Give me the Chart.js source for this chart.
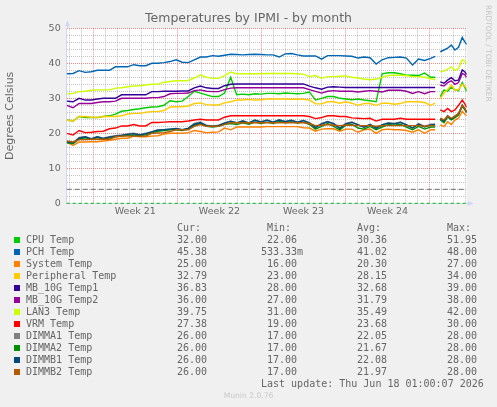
<!DOCTYPE html>
<html>
<head>
<meta charset="utf-8">
<title>Temperatures by IPMI - by month</title>
<script src="https://cdn.jsdelivr.net/npm/chart.js@4.4.1/dist/chart.umd.min.js"></script>
<style>
  body { margin: 0; background: #F0F0F0; }
  #wrap { position: relative; width: 497px; height: 407px; overflow: hidden; color: #666666; }
  #graph { position: absolute; left: 0; top: 0; }
  .mono { position: absolute; height: 12px; line-height: 12px; font-family: "DejaVu Sans Mono", monospace; font-size: 10px; white-space: pre; }
  .sw { position: absolute; width: 6px; height: 6px; }
  #munin { position: absolute; left: 0; width: 497px; top: 391px; line-height: 10px; text-align: center; font-family: "DejaVu Sans", sans-serif; font-size: 7.6px; color: #C8C8C8; }
  #rrd { position: absolute; left: 484px; top: 5px; width: 8px; line-height: 8px; writing-mode: vertical-rl; font-family: "DejaVu Sans", sans-serif; font-size: 7.5px; color: #C4C4C4; white-space: nowrap; }
</style>
</head>
<body>
<div id="wrap">
  <canvas id="graph" width="497" height="407"></canvas>
  <div id="rrd">RRDTOOL / TOBI OETIKER</div>
  <div id="legend"></div>
  <div class="mono" style="left:261px; top:378px;">Last update: Thu Jun 18 01:00:07 2026</div>
  <div id="munin">Munin 2.0.76</div>
</div>
<script>
// x = days from the left edge of the month graph
const days = [0, 0.53, 1.03, 1.54, 2.04, 2.55, 3.05, 3.56, 4.06, 4.57, 5.07, 5.58, 6.08, 6.58, 7.09, 7.59, 8.1,
  8.6, 9.11, 9.61, 10.12, 10.62, 11.13, 11.63, 12.14, 12.64, 13.14, 13.65, 14.15, 14.66, 15.16, 15.67, 16.17,
  16.68, 17.18, 17.69, 18.19, 18.7, 19.2, 19.7, 20.21, 20.71, 21.22, 21.72, 22.23, 22.73, 23.24, 23.74, 24.25, 24.75, 25.26,
  25.76, 26.26, 26.77, 27.27, 27.78, 28.28, 28.79, 29.29, 29.8, 30.3,
  30.67, 30.9, 31.1, 31.41, 31.71, 32.02, 32.32, 32.62, 32.93, 33.13, 33.3];

const weekStarts = [2.215, 9.215, 16.215, 23.215, 30.215];
const weekLabels = ["Week 21", "Week 22", "Week 23", "Week 24"];
const hrules = [4, 0];

const seriesNames = ["CPU Temp", "PCH Temp", "System Temp", "Peripheral Temp", "MB_10G Temp1", "MB_10G Temp2",
  "LAN3 Temp", "VRM Temp", "DIMMA1 Temp", "DIMMA2 Temp", "DIMMB1 Temp", "DIMMB2 Temp"];
const colors = ["#00CC00", "#0066B3", "#FF8000", "#FFCC00", "#330099", "#990099",
  "#CCFF00", "#FF0000", "#808080", "#008F00", "#00487D", "#B35A00"];

const cpuTemp = [23.8, 23.5, 24.8, 24.5, 24.5, 24.5, 24.8, 25.0, 25.5, 26.3, 26.5, 26.8, 27.0, 27.3, 27.5, 27.6, 28.0,
  29.3, 29.0, 29.2, 30.5, 32.0, 31.5, 31.0, 30.5, 30.5, 31.5, 36.0, 31.0, 31.2, 31.0, 31.3, 31.2,
  31.4, 31.4, 31.3, 31.5, 31.4, 31.3, 31.4, 31.8, 29.5, 30.0, 30.5, 30.5, 30.0, 29.8, 29.6, 29.8, 29.5, 29.3,
  29.0, 37.0, 37.3, 37.3, 37.0, 36.6, 36.6, 36.5, 37.2, 36.0,
  36.0, null, 30.5, 32.4, 32.0, 33.2, 32.5, 32.2, 34.5, 33.2, 32.0];
const pchTemp = [37.0, 37.1, 37.9, 37.4, 37.6, 38.0, 38.0, 38.0, 39.0, 39.0, 39.0, 39.6, 39.3, 39.3, 40.0, 40.0, 40.2,
  40.5, 41.0, 40.3, 40.2, 41.0, 41.8, 41.8, 42.2, 42.0, 42.3, 42.6, 42.5, 42.4, 42.5, 42.6, 42.5,
  42.4, 42.4, 41.8, 42.7, 42.8, 42.4, 42.1, 42.1, 42.1, 41.2, 42.2, 42.2, 42.2, 42.1, 42.0, 41.5, 41.8, 41.6,
  39.8, 41.0, 41.6, 41.7, 41.8, 41.5, 39.5, 41.2, 40.8, 41.4,
  42.0, null, 43.3, 43.8, 44.3, 45.2, 43.8, 44.6, 47.4, 46.2, 45.4];
const systemTemp = [17.5, 16.5, 17.5, 17.5, 17.6, 17.6, 17.8, 18.0, 18.3, 18.6, 18.6, 19.2, 19.0, 19.0, 19.2, 19.3, 19.8,
  20.0, 20.0, 20.0, 20.2, 20.8, 20.5, 20.2, 20.3, 20.4, 21.5, 21.0, 21.8, 21.8, 21.8, 21.8, 21.8,
  21.9, 21.9, 21.9, 21.9, 21.9, 21.9, 21.6, 21.5, 20.6, 21.2, 21.3, 21.3, 20.6, 21.2, 21.2, 20.3, 21.0, 21.2,
  20.0, 21.0, 21.2, 21.0, 21.0, 20.8, 20.3, 21.0, 20.0, 21.0,
  21.0, null, 22.4, 21.9, 23.3, 22.5, 23.8, 24.3, 26.3, 25.5, 25.0];
const peripheralTemp = [23.8, 23.5, 24.8, 24.8, 24.6, 24.5, 24.8, 24.8, 24.8, 25.0, 25.5, 25.7, 25.7, 26.0, 26.2, 26.2, 26.5,
  27.5, 27.6, 27.6, 27.8, 28.5, 28.7, 28.2, 28.1, 28.1, 28.7, 29.0, 29.5, 29.5, 29.7, 29.5, 29.6,
  29.8, 29.8, 29.8, 29.8, 29.7, 29.8, 29.7, 29.5, 28.4, 28.4, 29.0, 29.0, 28.6, 29.0, 28.6, 28.0, 28.5, 28.5,
  28.0, 28.6, 28.6, 28.3, 28.5, 29.0, 29.0, 29.0, 28.8, 28.0,
  28.6, null, 29.8, 31.5, 32.5, 33.8, 32.3, 32.5, 34.0, 33.5, 32.8];
const mb10gTemp1 = [29.2, 29.0, 30.0, 29.5, 29.5, 29.8, 30.0, 30.0, 30.0, 31.0, 31.0, 31.0, 31.0, 31.0, 31.9, 31.9, 32.0,
  32.0, 32.0, 32.1, 32.1, 33.0, 33.5, 33.0, 32.8, 32.8, 33.6, 34.0, 34.1, 34.1, 34.1, 34.1, 34.1,
  34.1, 34.1, 34.1, 34.1, 34.1, 34.1, 34.1, 33.5, 33.0, 32.6, 33.2, 33.3, 33.2, 33.1, 33.1, 33.1, 33.1, 33.1,
  33.1, 33.1, 33.1, 33.1, 33.1, 33.1, 33.1, 33.1, 33.1, 33.1,
  33.1, null, 34.7, 34.3, 35.2, 35.9, 35.0, 35.2, 38.1, 37.6, 36.8];
const mb10gTemp2 = [28.0, 27.3, 28.5, 28.5, 28.5, 28.8, 29.0, 29.0, 29.2, 30.0, 30.0, 30.0, 30.0, 30.0, 30.2, 30.2, 30.5,
  31.3, 31.4, 31.4, 31.5, 32.2, 32.4, 32.0, 31.9, 31.9, 32.5, 32.9, 33.0, 33.0, 33.0, 33.0, 33.0,
  33.0, 33.0, 33.0, 33.0, 33.0, 33.0, 33.0, 32.5, 32.0, 31.5, 32.0, 32.2, 32.0, 32.0, 32.0, 31.8, 32.0, 32.2,
  32.0, 31.8, 32.3, 32.3, 32.3, 32.0, 31.4, 31.9, 31.3, 31.9,
  31.9, null, 33.8, 33.5, 34.5, 35.0, 34.0, 34.5, 37.1, 36.8, 36.0];
const lan3Temp = [31.2, 31.4, 31.9, 32.0, 32.3, 32.4, 32.4, 32.4, 32.9, 33.0, 33.3, 33.5, 33.6, 33.8, 34.0, 34.0, 34.6,
  34.8, 35.0, 35.0, 35.1, 35.8, 36.7, 36.0, 35.7, 35.7, 36.5, 37.5, 37.0, 37.0, 37.0, 37.0, 37.0,
  37.1, 37.1, 37.1, 37.1, 37.1, 37.0, 36.9, 36.2, 36.5, 35.7, 36.2, 36.2, 36.3, 36.4, 36.0, 35.8, 35.5, 35.3,
  35.5, 36.0, 36.5, 36.6, 36.6, 36.5, 36.2, 36.2, 36.0, 35.6,
  35.3, null, 37.6, 37.8, 38.3, 39.0, 38.0, 38.5, 41.0, 40.6, 39.8];
const vrmTemp = [20.0, 19.5, 20.8, 20.2, 20.3, 20.5, 20.6, 21.3, 21.5, 22.1, 22.1, 22.5, 22.1, 22.1, 23.1, 23.1, 23.2,
  23.3, 23.3, 23.3, 23.5, 23.8, 24.0, 23.8, 23.8, 23.8, 24.6, 25.0, 25.0, 25.0, 25.0, 25.0, 25.0,
  25.0, 25.0, 25.0, 25.0, 25.0, 25.0, 25.0, 24.8, 24.2, 24.5, 25.0, 25.0, 24.8, 24.8, 24.4, 24.3, 24.2, 24.3,
  23.5, 24.0, 24.0, 24.0, 24.3, 24.0, 24.0, 24.0, 24.0, 24.0,
  24.0, null, 26.7, 26.2, 27.1, 26.2, 26.7, 28.0, 29.5, 28.5, 27.4];
const dimmA1Temp = [17.5, 17.2, 18.8, 19.0, 18.5, 19.0, 18.6, 19.0, 19.3, 19.5, 19.8, 20.0, 19.6, 20.0, 20.5, 21.0, 21.0,
  21.2, 21.3, 21.0, 21.5, 22.8, 23.2, 22.3, 22.0, 22.3, 23.0, 23.5, 23.0, 23.6, 23.0, 23.8, 23.3,
  23.8, 23.2, 23.9, 23.4, 23.8, 23.2, 23.7, 23.0, 21.8, 22.8, 23.4, 22.8, 21.5, 22.8, 23.2, 22.5, 21.8, 22.6,
  21.5, 22.5, 23.0, 22.8, 23.2, 22.5, 21.5, 22.8, 22.0, 22.6,
  22.6, null, 24.0, 23.3, 25.0, 24.0, 24.8, 25.5, 28.0, 27.0, 26.0];
const dimmA2Temp = [17.3, 17.0, 18.3, 18.7, 18.2, 18.8, 18.3, 18.7, 19.0, 19.2, 19.4, 19.5, 19.3, 19.6, 20.2, 20.6, 20.8,
  21.0, 21.0, 20.8, 21.2, 22.3, 22.8, 22.0, 21.8, 22.0, 22.6, 22.8, 22.5, 23.0, 22.6, 23.2, 22.8,
  23.2, 22.8, 23.4, 23.0, 23.3, 22.9, 23.2, 22.5, 21.2, 22.0, 22.8, 22.0, 21.0, 22.3, 22.6, 21.5, 21.2, 22.0,
  21.0, 21.8, 22.5, 22.3, 22.6, 21.8, 21.0, 22.0, 21.2, 21.8,
  21.8, null, 23.8, 23.0, 24.6, 23.8, 24.5, 25.2, 27.8, 26.8, 26.0];
const dimmB1Temp = [17.6, 17.3, 18.6, 19.0, 18.4, 19.0, 18.5, 18.9, 19.2, 19.4, 19.7, 19.9, 19.5, 19.9, 20.4, 20.9, 21.0,
  21.2, 21.4, 21.0, 21.4, 22.6, 23.0, 22.2, 22.0, 22.2, 22.9, 23.4, 23.0, 23.5, 23.0, 23.7, 23.2,
  23.7, 23.2, 23.8, 23.3, 23.7, 23.2, 23.6, 23.0, 21.6, 22.6, 23.3, 22.7, 21.4, 22.7, 23.1, 22.4, 21.7, 22.5,
  21.4, 22.4, 22.9, 22.7, 23.1, 22.4, 21.5, 22.6, 21.8, 22.4,
  22.5, null, 24.2, 23.5, 25.0, 24.1, 24.9, 25.6, 28.0, 27.1, 26.0];
const dimmB2Temp = [17.8, 17.5, 18.2, 18.2, 18.3, 18.3, 18.3, 18.3, 19.0, 19.2, 19.2, 19.2, 19.2, 19.2, 20.0, 20.1, 20.2,
  20.5, 21.0, 21.0, 21.0, 22.0, 22.5, 22.0, 22.0, 22.0, 22.5, 23.0, 23.0, 23.0, 23.0, 23.0, 23.0,
  23.0, 23.0, 23.0, 23.0, 23.0, 23.0, 23.0, 22.8, 22.2, 22.3, 22.5, 22.3, 22.2, 22.3, 22.3, 22.2, 22.2, 22.2,
  22.0, 22.2, 22.2, 22.2, 22.2, 22.2, 22.2, 22.2, 22.0, 22.2,
  22.2, null, 24.3, 23.8, 24.9, 24.3, 24.9, 25.6, 28.0, 27.2, 26.0];

const curVals = [32.00, 45.38, 25.00, 32.79, 36.83, 36.00, 39.75, 27.38, 26.00, 26.00, 26.00, 26.00];
const minVals = [22.06, 0.53333, 16.00, 23.00, 28.00, 27.00, 31.00, 19.00, 17.00, 17.00, 17.00, 17.00];
const avgVals = [30.36, 41.02, 20.30, 28.15, 32.68, 31.79, 35.49, 23.68, 22.05, 21.67, 22.08, 21.97];
const maxVals = [51.95, 48.00, 27.00, 34.00, 39.00, 38.00, 42.00, 30.00, 28.00, 28.00, 28.00, 28.00];

const allSeries = [cpuTemp, pchTemp, systemTemp, peripheralTemp, mb10gTemp1, mb10gTemp2,
  lan3Temp, vrmTemp, dimmA1Temp, dimmA2Temp, dimmB1Temp, dimmB2Temp];

const X_MAX = 33.3;
const MINOR = "rgba(150,150,150,0.55)";
const MAJOR = "rgba(230,60,60,0.6)";
const AXIS = "#CFD6F8";

// daily grid lines and week label positions
const dayGrid = [];
for (let v = weekStarts[0] - 2; v <= X_MAX; v += 1) dayGrid.push(+v.toFixed(3));
const weekMids = weekLabels.map((l, i) => +(weekStarts[i] + 3.5).toFixed(3));
const xTicks = dayGrid.concat(weekMids).sort((a, b) => a - b);

const datasets = allSeries.map((vals, i) => ({
  label: seriesNames[i],
  data: vals.map((v, j) => ({ x: days[j], y: v })),
  borderColor: colors[i],
  borderWidth: 1.4,
  pointRadius: 0,
  tension: 0,
  spanGaps: false,
  order: allSeries.length - i
}));

const hruleColors = ["#707070", "#00BB00"];
const hruleDash = [[5, 3], [3, 3]];
hrules.forEach((lvl, i) => {
  datasets.push({
    label: "hrule" + i,
    data: [{ x: 0, y: lvl }, { x: X_MAX, y: lvl }],
    borderColor: hruleColors[i],
    borderWidth: 1,
    borderDash: hruleDash[i],
    pointRadius: 0,
    clip: 3,
    order: 0
  });
});

const canvasBg = {
  id: "canvasBg",
  beforeDraw(chart) {
    const { ctx, chartArea: a } = chart;
    ctx.save();
    ctx.fillStyle = "#FFFFFF";
    ctx.fillRect(a.left, a.top, a.right - a.left, a.bottom - a.top);
    ctx.restore();
  }
};

const arrows = {
  id: "arrows",
  afterDraw(chart) {
    const { ctx, chartArea: a } = chart;
    ctx.save();
    ctx.strokeStyle = AXIS;
    ctx.fillStyle = AXIS;
    ctx.lineWidth = 1;
    const lx = Math.round(a.left) + 0.5;
    const by = Math.round(a.bottom) + 0.5;
    ctx.beginPath();
    ctx.moveTo(lx, a.top);
    ctx.lineTo(lx, a.top - 4);
    ctx.moveTo(a.right, by);
    ctx.lineTo(a.right + 3, by);
    ctx.stroke();
    ctx.beginPath();
    ctx.moveTo(lx - 2.5, a.top - 2);
    ctx.lineTo(lx + 2.5, a.top - 2);
    ctx.lineTo(lx, a.top - 8);
    ctx.closePath();
    ctx.fill();
    ctx.beginPath();
    ctx.moveTo(a.right + 1, by - 2.5);
    ctx.lineTo(a.right + 1, by + 2.5);
    ctx.lineTo(a.right + 7, by);
    ctx.closePath();
    ctx.fill();
    ctx.restore();
  }
};

const tickFont = { family: "DejaVu Sans", size: 9.5 };

new Chart(document.getElementById("graph"), {
  type: "line",
  data: { datasets },
  options: {
    responsive: false,
    animation: false,
    events: [],
    layout: { padding: 0 },
    plugins: {
      legend: { display: false },
      tooltip: { enabled: false },
      title: {
        display: true,
        text: "Temperatures by IPMI - by month",
        color: "#666666",
        font: { family: "DejaVu Sans", size: 12.5, weight: "normal", lineHeight: 1.2 },
        padding: { top: 11, bottom: 2.3 }
      }
    },
    scales: {
      x: {
        type: "linear",
        min: 0,
        max: X_MAX,
        afterBuildTicks: s => { s.ticks = xTicks.map(v => ({ value: v })); },
        afterFit: s => { s.height = 203.7; },
        grid: {
          drawTicks: false,
          color: c => {
            const v = c.tick ? c.tick.value : null;
            if (weekStarts.includes(v)) return MAJOR;
            if (dayGrid.includes(v)) return MINOR;
            return "rgba(0,0,0,0)";
          }
        },
        border: { color: AXIS, dash: [1, 1] },
        ticks: {
          autoSkip: false,
          maxRotation: 0,
          padding: 3,
          color: "#666666",
          font: tickFont,
          callback: v => {
            const k = weekMids.indexOf(+(+v).toFixed(3));
            return k >= 0 ? weekLabels[k] : "";
          }
        }
      },
      y: {
        min: 0,
        max: 50,
        afterFit: s => { s.width = 66.7; },
        grid: {
          drawTicks: false,
          color: c => (c.tick && c.tick.value % 10 === 0 ? MAJOR : MINOR)
        },
        border: { color: AXIS, dash: [1, 1] },
        ticks: {
          stepSize: 2,
          autoSkip: false,
          padding: 6,
          color: "#666666",
          font: tickFont,
          callback: v => (v % 10 === 0 ? v : "")
        },
        title: {
          display: true,
          text: "Degrees Celsius",
          color: "#666666",
          font: { family: "DejaVu Sans", size: 11 },
          padding: { top: 4, bottom: 0 }
        }
      },
      // empty right-hand strip, keeps the plot 400px wide while the title stays centred on the image
      side: {
        type: "linear",
        position: "right",
        display: true,
        afterFit: s => { s.width = 30.3; },
        grid: { display: false },
        border: { display: false },
        ticks: { display: false }
      }
    }
  },
  plugins: [canvasBg, arrows]
});

// legend table, the way munin prints it
function fmt(v) {
  if (v < 1) return (v * 1000).toFixed(2).padStart(6) + "m";
  return v.toFixed(2).padStart(6);
}
const legend = document.getElementById("legend");
const colX = [171, 261, 351, 441];
const heads = ["Cur:", "Min:", "Avg:", "Max:"];
heads.forEach((h, i) => {
  const d = document.createElement("div");
  d.className = "mono";
  d.style.left = (colX[i] + 6) + "px";
  d.style.top = "222px";
  d.textContent = h;
  legend.appendChild(d);
});
seriesNames.forEach((name, k) => {
  const top = 234 + 12 * k;
  const sw = document.createElement("div");
  sw.className = "sw";
  sw.style.left = "14px";
  sw.style.top = (top + 3) + "px";
  sw.style.background = colors[k];
  legend.appendChild(sw);

  const lab = document.createElement("div");
  lab.className = "mono";
  lab.style.left = "26px";
  lab.style.top = top + "px";
  lab.textContent = name;
  legend.appendChild(lab);

  [curVals, minVals, avgVals, maxVals].forEach((arr, i) => {
    const d = document.createElement("div");
    d.className = "mono";
    d.style.left = colX[i] + "px";
    d.style.top = top + "px";
    d.textContent = fmt(arr[k]);
    legend.appendChild(d);
  });
});
</script>
</body>
</html>
